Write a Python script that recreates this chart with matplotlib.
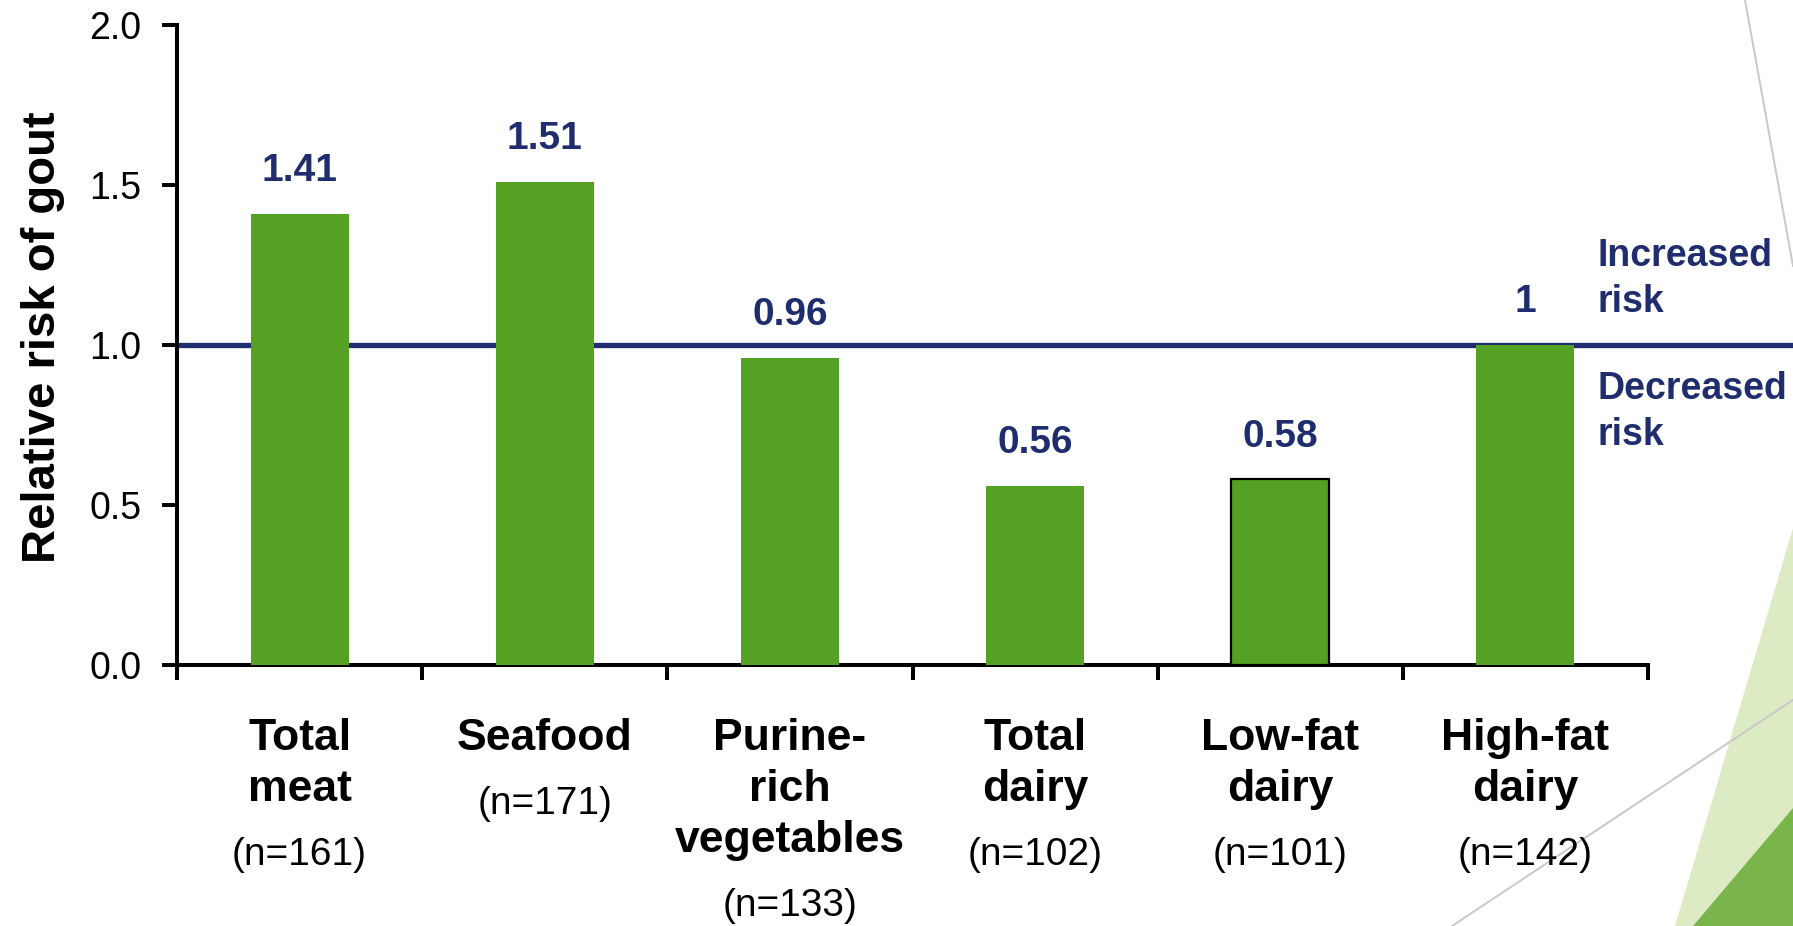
import matplotlib
matplotlib.use('Agg')
import matplotlib.pyplot as plt
import matplotlib.transforms as mtransforms
from matplotlib.patches import Polygon
from matplotlib.lines import Line2D
from matplotlib.ticker import FormatStrFormatter

categories = ['Total\nmeat', 'Seafood', 'Purine-\nrich\nvegetables',
              'Total\ndairy', 'Low-fat\ndairy', 'High-fat\ndairy']
sample_sizes = ['(n=161)', '(n=171)', '(n=133)', '(n=102)', '(n=101)', '(n=142)']
relative_risk = [1.41, 1.51, 0.96, 0.56, 0.58, 1]
risk_labels = ['1.41', '1.51', '0.96', '0.56', '0.58', '1']

plt.rcParams['font.family'] = ['Liberation Sans', 'DejaVu Sans']

green = '#55A123'
navy = '#1F2D6E'
W, H = 1793, 926

fig = plt.figure(figsize=(W / 100, H / 100), dpi=100)
ax = fig.add_axes([177 / W, 1 - 665 / H, (1648 - 177) / W, 640 / H])
ax.patch.set_alpha(0)

x = list(range(len(categories)))
edges = ['none'] * len(categories)
edges[4] = 'black'
bars = ax.bar(x, relative_risk, width=0.4, color=green, edgecolor=edges,
              linewidth=1.6, zorder=3)

# reference line at RR = 1, running out to the right edge of the slide
ax.axhline(1.0, xmin=0, xmax=(W - 177) / (1648 - 177), color=navy, lw=3.8,
           clip_on=False, zorder=2)

for b, lab in zip(bars, risk_labels):
    ax.annotate(lab, (b.get_x() + b.get_width() / 2, b.get_height()),
                xytext=(0, 23.5), textcoords='offset points', ha='center',
                va='baseline', fontsize=28, fontweight='bold', color=navy)

ax.set_xlim(-0.5, len(categories) - 0.5)
ax.set_ylim(0, 2)
ax.set_xticks([i - 0.5 for i in range(len(categories) + 1)])
ax.set_xticks(x, categories, minor=True, fontsize=32, fontweight='bold',
              linespacing=1.31)
ax.tick_params(axis='x', which='major', length=10.5, width=2.9, labelbottom=False)
ax.tick_params(axis='x', which='minor', length=0, pad=38)
ax.set_yticks([0, 0.5, 1.0, 1.5, 2.0])
ax.yaxis.set_major_formatter(FormatStrFormatter('%.1f'))
ax.tick_params(axis='y', length=10.5, width=2.9, labelsize=27, pad=15)

for s in ['top', 'right']:
    ax.spines[s].set_visible(False)
for s in ['left', 'bottom']:
    ax.spines[s].set_linewidth(2.9)

# sample sizes under each category name
for lbl, n in zip(ax.get_xticklabels(minor=True), sample_sizes):
    ax.annotate(n, xy=(0.5, 0), xycoords=lbl, xytext=(0, -40),
                textcoords='offset points', ha='center', va='baseline',
                fontsize=28)

ax.set_ylabel('Relative risk of gout', fontsize=34, fontweight='bold')
ax.yaxis.set_label_coords(-0.076, 0.512)

side = mtransforms.blended_transform_factory(ax.transAxes, ax.transData)
ax.annotate('Increased\nrisk', xy=(0.966, 1.0), xycoords=side, xytext=(0, 18),
            textcoords='offset points', ha='left', va='bottom', fontsize=27,
            fontweight='bold', color=navy, linespacing=1.35,
            annotation_clip=False)
ax.annotate('Decreased\nrisk', xy=(0.966, 1.0), xycoords=side, xytext=(0, -19),
            textcoords='offset points', ha='left', va='top', fontsize=27,
            fontweight='bold', color=navy, linespacing=1.35,
            annotation_clip=False)


# slide theme decoration in the right corner
def px(xp, yp):
    return (xp / W, 1 - yp / H)


fig.add_artist(Polygon([px(1793, 528), px(1675, 926), px(1793, 926)],
                       closed=True, transform=fig.transFigure,
                       facecolor='#DDEBC4', edgecolor='none', zorder=-2))
fig.add_artist(Polygon([px(1793, 808), px(1693, 926), px(1793, 926)],
                       closed=True, transform=fig.transFigure,
                       facecolor='#7AB54B', edgecolor='none', zorder=-1))
for (x0, y0), (x1, y1) in [((1745, 0), (1793, 266)), ((1452, 926), (1793, 700))]:
    a, b = px(x0, y0), px(x1, y1)
    fig.add_artist(Line2D([a[0], b[0]], [a[1], b[1]], transform=fig.transFigure,
                          color='#C8C8C8', lw=1.4, zorder=-1))

fig.savefig('out.png', dpi=100)
